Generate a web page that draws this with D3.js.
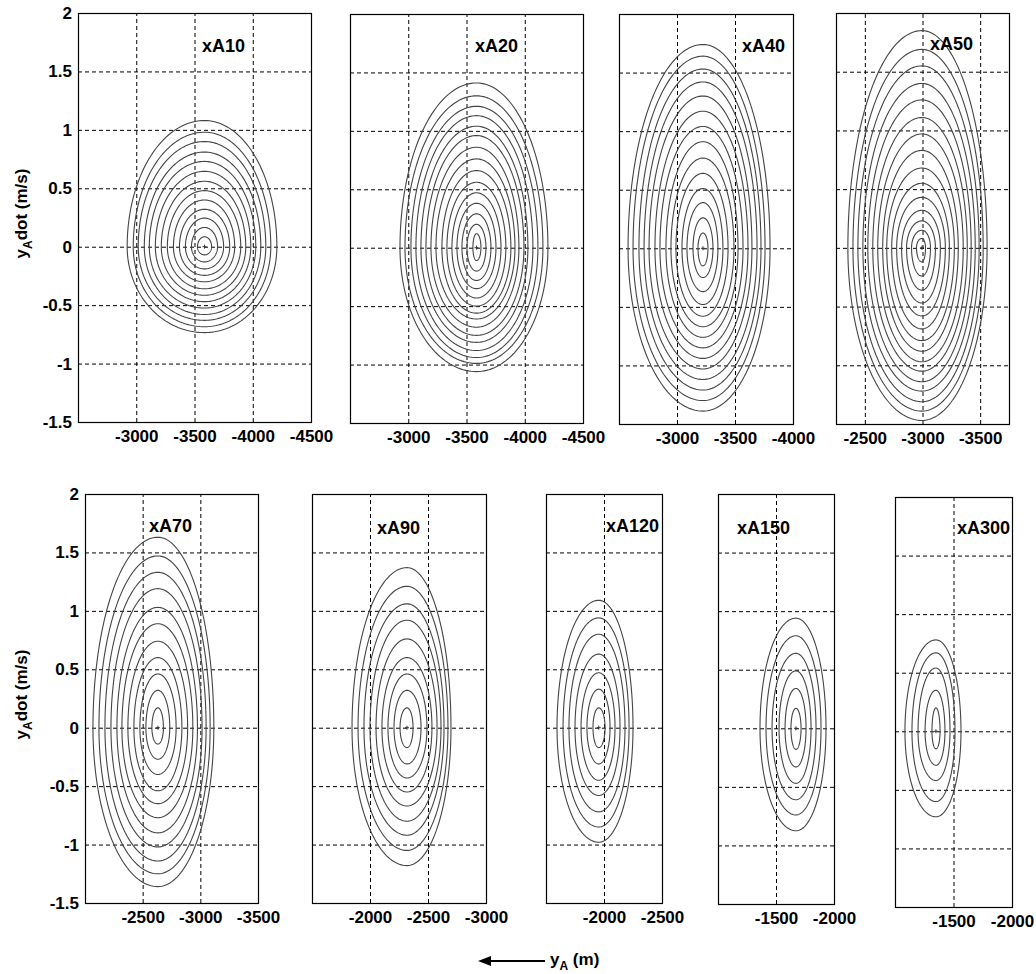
<!DOCTYPE html>
<html>
<head>
<meta charset="utf-8">
<script src="https://cdn.jsdelivr.net/npm/d3@7"></script>
<style>
  html, body { margin: 0; padding: 0; background: #fff; }
  svg { display: block; font-family: "Liberation Sans", Arial, Helvetica, sans-serif; }
</style>
</head>
<body>
<svg id="chart" width="1036" height="974"></svg>
<script>
// ---------------- DATA ----------------
const panelNames = ["xA10", "xA20", "xA40", "xA50", "xA70", "xA90", "xA120", "xA150", "xA300"];
const xDomains = [
  [-2500, -4500], [-2500, -4500], [-2500, -4000], [-2250, -3750],
  [-2000, -3500], [-1500, -3000], [-1500, -2500], [-1000, -2000], [-1000, -2000]
];
const xTicks = [
  [-3000, -3500, -4000, -4500],
  [-3000, -3500, -4000, -4500],
  [-3000, -3500, -4000],
  [-2500, -3000, -3500],
  [-2500, -3000, -3500],
  [-2000, -2500, -3000],
  [-2000, -2500],
  [-1500, -2000],
  [-1500, -2000]
];
const yDomain = [-1.5, 2];
const yTicks = [-1.5, -1, -0.5, 0, 0.5, 1, 1.5, 2];

// ring centres (y_A, m) and ring extents, inner ring first
const ringCenters = [-3586, -3586, -3224, -2995, -2632, -2319, -1955, -1672, -1350];
const ringTops = [
  [0.085, 0.165, 0.245, 0.32, 0.40, 0.48, 0.56, 0.645, 0.73, 0.81, 0.90, 0.98, 1.08],
  [0.12, 0.20, 0.29, 0.38, 0.47, 0.56, 0.66, 0.76, 0.86, 0.96, 1.04, 1.13, 1.21, 1.30, 1.41],
  [0.13, 0.26, 0.39, 0.51, 0.64, 0.77, 0.91, 1.04, 1.17, 1.30, 1.42, 1.53, 1.64, 1.74],
  [0.08, 0.15, 0.23, 0.32, 0.43, 0.55, 0.68, 0.83, 0.97, 1.11, 1.26, 1.40, 1.55, 1.69, 1.85],
  [0.17, 0.32, 0.46, 0.60, 0.74, 0.89, 1.03, 1.19, 1.33, 1.47, 1.63],
  [0.17, 0.32, 0.46, 0.60, 0.76, 0.92, 1.06, 1.21, 1.37],
  [0.17, 0.33, 0.47, 0.63, 0.80, 0.94, 1.09],
  [0.17, 0.34, 0.49, 0.64, 0.79, 0.94],
  [0.20, 0.35, 0.54, 0.67, 0.78]
];
const ringBottoms = [
  [-0.07, -0.13, -0.19, -0.245, -0.30, -0.36, -0.415, -0.47, -0.525, -0.58, -0.63, -0.685, -0.735],
  [-0.11, -0.20, -0.28, -0.35, -0.43, -0.50, -0.56, -0.61, -0.68, -0.75, -0.81, -0.88, -0.94, -0.99, -1.06],
  [-0.15, -0.25, -0.37, -0.48, -0.58, -0.67, -0.76, -0.85, -0.94, -1.03, -1.12, -1.21, -1.30, -1.39],
  [-0.12, -0.24, -0.36, -0.47, -0.58, -0.69, -0.79, -0.88, -0.97, -1.05, -1.14, -1.22, -1.31, -1.39, -1.47],
  [-0.14, -0.27, -0.40, -0.54, -0.65, -0.77, -0.90, -1.02, -1.14, -1.25, -1.36],
  [-0.17, -0.31, -0.43, -0.55, -0.67, -0.80, -0.92, -1.05, -1.18],
  [-0.17, -0.31, -0.45, -0.58, -0.72, -0.85, -0.98],
  [-0.18, -0.33, -0.47, -0.61, -0.74, -0.875],
  [-0.15, -0.29, -0.42, -0.60, -0.73]
];
const ringLefts = [
  [-3526, -3474, -3422, -3371, -3319, -3267, -3215, -3164, -3112, -3069, -3017, -2974, -2922],
  [-3555, -3504, -3461, -3418, -3375, -3332, -3289, -3238, -3195, -3152, -3109, -3066, -3023, -2972, -2929],
  [-3181, -3138, -3086, -3043, -2991, -2948, -2905, -2853, -2810, -2759, -2716, -2672, -2621, -2578],
  [-2948, -2905, -2862, -2819, -2776, -2733, -2690, -2655, -2612, -2569, -2526, -2483, -2440, -2397, -2353],
  [-2580, -2528, -2476, -2424, -2372, -2320, -2277, -2225, -2173, -2121, -2069],
  [-2259, -2207, -2155, -2103, -2052, -2000, -1948, -1897, -1845],
  [-1905, -1853, -1802, -1750, -1698, -1647, -1595],
  [-1629, -1578, -1526, -1466, -1414, -1362],
  [-1316, -1257, -1197, -1145, -1085]
];
const ringRights = [
  [-3647, -3698, -3750, -3802, -3845, -3897, -3940, -3983, -4026, -4069, -4112, -4155, -4207],
  [-3624, -3667, -3710, -3753, -3796, -3838, -3881, -3916, -3950, -3993, -4027, -4070, -4113, -4156, -4199],
  [-3267, -3310, -3353, -3396, -3440, -3491, -3526, -3569, -3612, -3646, -3690, -3724, -3759, -3802],
  [-3026, -3069, -3112, -3155, -3198, -3233, -3276, -3310, -3353, -3388, -3422, -3457, -3491, -3526, -3560],
  [-2680, -2735, -2790, -2840, -2890, -2935, -2975, -3015, -3050, -3085, -3117],
  [-2371, -2440, -2491, -2534, -2578, -2612, -2638, -2672, -2698],
  [-2009, -2052, -2095, -2138, -2181, -2216, -2250],
  [-1716, -1759, -1802, -1845, -1888, -1931],
  [-1385, -1427, -1470, -1513, -1564]
];

// ---------------- LAYOUT ----------------
const layout = [
  {l: 78,  r: 311,  t: 13,  b: 422, tdx: 124, tdy: 39},
  {l: 350, r: 583,  t: 14,  b: 423, tdx: 125, tdy: 38},
  {l: 619, r: 793,  t: 14,  b: 424, tdx: 123, tdy: 38},
  {l: 836, r: 1009, t: 13,  b: 424, tdx: 94,  tdy: 37},
  {l: 85,  r: 258,  t: 494, b: 903, tdx: 64,  tdy: 38},
  {l: 312, r: 486,  t: 494, b: 903, tdx: 65,  tdy: 40},
  {l: 546, r: 662,  t: 494, b: 903, tdx: 60,  tdy: 38},
  {l: 718, r: 834,  t: 494, b: 904, tdx: 19,  tdy: 40},
  {l: 895, r: 1012, t: 497, b: 907, tdx: 62,  tdy: 37}
];
const yLabelPanels = [0, 4];

const svg = d3.select("#chart");
svg.append("rect").attr("width", 1036).attr("height", 974).attr("fill", "#fff");

const fmt = d => String(d);

function ringPoints(cx, top, bottom, left, right) {
  const pts = [];
  const n = 180;
  for (let k = 0; k <= n; k++) {
    const a = (k / n) * 2 * Math.PI;
    const c = Math.cos(a), s = Math.sin(a);
    const xv = c >= 0 ? cx + (right - cx) * c : cx - (left - cx) * c;
    const yv = s >= 0 ? top * s : -bottom * s;
    pts.push([xv, yv]);
  }
  return pts;
}

panelNames.forEach((name, i) => {
  const L = layout[i];
  const x = d3.scaleLinear().domain(xDomains[i]).range([L.l, L.r]);
  const y = d3.scaleLinear().domain(yDomain).range([L.b, L.t]);
  const g = svg.append("g");

  // grid (vertical)
  const gx = g.append("g").attr("transform", `translate(0,${L.b})`)
    .call(d3.axisBottom(x).tickValues(xTicks[i].filter(v => x(v) < L.r - 1 && x(v) > L.l + 1))
      .tickSize(-(L.b - L.t)).tickFormat(""));
  gx.select(".domain").remove();
  gx.selectAll("line").attr("stroke", "#000").attr("stroke-width", 1).attr("stroke-dasharray", "4,3");

  // grid (horizontal)
  const gy = g.append("g").attr("transform", `translate(${L.l},0)`)
    .call(d3.axisLeft(y).tickValues(yTicks.filter(v => y(v) < L.b - 1 && y(v) > L.t + 1))
      .tickSize(-(L.r - L.l)).tickFormat(""));
  gy.select(".domain").remove();
  gy.selectAll("line").attr("stroke", "#000").attr("stroke-width", 1).attr("stroke-dasharray", "4,3");

  // rings
  const line = d3.line().x(p => x(p[0])).y(p => y(p[1]));
  ringTops[i].forEach((tp, k) => {
    g.append("path")
      .attr("d", line(ringPoints(ringCenters[i], tp, ringBottoms[i][k], ringLefts[i][k], ringRights[i][k])))
      .attr("fill", "none").attr("stroke", "#444").attr("stroke-width", 1.1);
  });
  // centre mark
  const cxp = x(ringCenters[i]), cyp = y(0);
  g.append("path").attr("d", `M${cxp-2},${cyp}H${cxp+2}M${cxp},${cyp-2}V${cyp+2}`)
    .attr("stroke", "#333").attr("stroke-width", 1);

  // box
  g.append("rect").attr("x", L.l + 0.5).attr("y", L.t + 0.5)
    .attr("width", L.r - L.l).attr("height", L.b - L.t)
    .attr("fill", "none").attr("stroke", "#000").attr("stroke-width", 1.2);

  // x tick labels
  const ax = g.append("g").attr("transform", `translate(0,${L.b})`)
    .call(d3.axisBottom(x).tickValues(xTicks[i]).tickSize(0).tickPadding(8).tickFormat(fmt));
  ax.select(".domain").remove();
  ax.selectAll("text").attr("font-size", 17).attr("font-weight", "bold").attr("fill", "#000")
    .attr("font-family", "Liberation Sans, Arial, sans-serif");

  // y tick labels
  if (yLabelPanels.includes(i)) {
    const ay = g.append("g").attr("transform", `translate(${L.l},0)`)
      .call(d3.axisLeft(y).tickValues(yTicks).tickSize(0).tickPadding(6).tickFormat(fmt));
    ay.select(".domain").remove();
    ay.selectAll("text").attr("font-size", 17).attr("font-weight", "bold").attr("fill", "#000")
      .attr("font-family", "Liberation Sans, Arial, sans-serif");

    const yl = svg.append("text")
      .attr("transform", `translate(27,${(L.t + L.b) / 2 - 4}) rotate(-90)`)
      .attr("text-anchor", "middle").attr("font-size", 17).attr("font-weight", "bold");
    yl.append("tspan").text("y");
    yl.append("tspan").attr("font-size", 12).attr("dy", 5).text("A");
    yl.append("tspan").attr("dy", -5).text("dot (m/s)");
  }

  // panel title
  svg.append("text").attr("x", L.l + L.tdx).attr("y", L.t + L.tdy)
    .attr("font-size", 18).attr("font-weight", "bold").text(name);
});

// bottom x label with arrow
svg.append("line").attr("x1", 545).attr("y1", 961).attr("x2", 488).attr("y2", 961)
  .attr("stroke", "#000").attr("stroke-width", 2);
svg.append("path").attr("d", "M478,961L491,956L491,966Z").attr("fill", "#000");
const xl = svg.append("text").attr("x", 550).attr("y", 965).attr("font-size", 17).attr("font-weight", "bold");
xl.append("tspan").text("y");
xl.append("tspan").attr("font-size", 12).attr("dy", 5).text("A");
xl.append("tspan").attr("dy", -5).text(" (m)");
</script>
</body>
</html>
